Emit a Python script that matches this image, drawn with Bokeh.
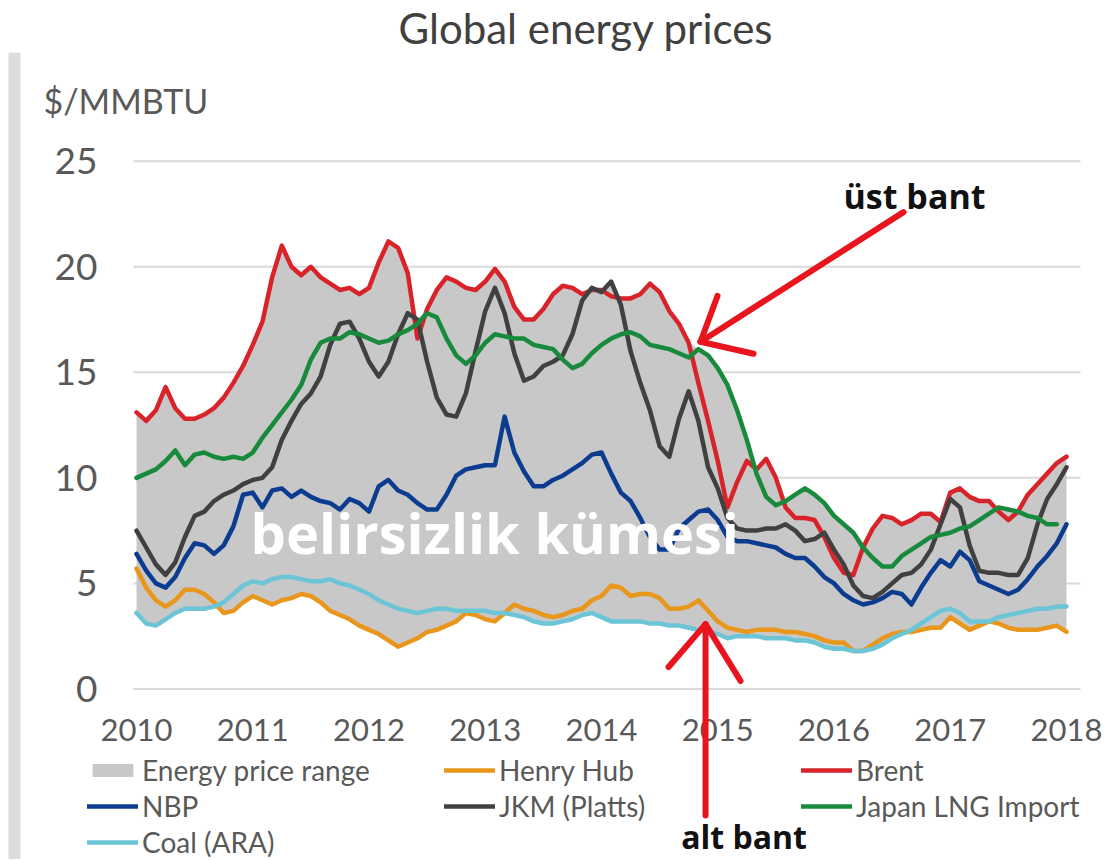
import numpy as np
from bokeh.plotting import figure
from bokeh.models import (Legend, LegendItem, Label, Arrow, FixedTicker, ColumnDataSource,
                          BoxAnnotation)
from bokeh.embed import file_html
from bokeh.resources import INLINE

# ---------------- data (monthly, Jan 2010 .. Jan 2018), $/MMBTU ----------------
start_year = 2010
year_ticks = [2010, 2011, 2012, 2013, 2014, 2015, 2016, 2017, 2018]
y_ticks = [0, 5, 10, 15, 20, 25]

henry_hub = [5.7, 4.8, 4.2, 3.9, 4.2, 4.7, 4.7, 4.5, 4.1, 3.6, 3.7, 4.1,
             4.4, 4.2, 4.0, 4.2, 4.3, 4.5, 4.4, 4.1, 3.7, 3.5, 3.3, 3.0,
             2.8, 2.6, 2.3, 2.0, 2.2, 2.4, 2.7, 2.8, 3.0, 3.2, 3.6, 3.5,
             3.3, 3.2, 3.6, 4.0, 3.8, 3.7, 3.5, 3.4, 3.5, 3.7, 3.8, 4.2,
             4.4, 4.9, 4.8, 4.4, 4.5, 4.5, 4.3, 3.8, 3.8, 3.9, 4.2, 3.7,
             3.2, 2.9, 2.8, 2.7, 2.8, 2.8, 2.8, 2.7, 2.7, 2.6, 2.5, 2.3,
             2.2, 2.2, 1.8, 1.8, 2.1, 2.4, 2.6, 2.7, 2.7, 2.8, 2.9, 2.9,
             3.4, 3.1, 2.8, 3.0, 3.2, 3.1, 2.9, 2.8, 2.8, 2.8, 2.9, 3.0,
             2.7]

brent = [13.1, 12.7, 13.2, 14.3, 13.3, 12.8, 12.8, 13.0, 13.3, 13.8, 14.5, 15.3,
         16.3, 17.4, 19.5, 21.0, 20.0, 19.6, 20.0, 19.5, 19.2, 18.9, 19.0, 18.7,
         19.0, 20.2, 21.2, 20.9, 19.7, 16.6, 18.0, 18.9, 19.5, 19.3, 19.0, 18.9,
         19.3, 19.9, 19.3, 18.1, 17.5, 17.5, 18.0, 18.7, 19.1, 19.0, 18.7, 18.9,
         18.9, 18.6, 18.5, 18.5, 18.7, 19.2, 18.8, 17.9, 17.3, 16.4, 14.5, 12.7,
         10.8, 8.6, 9.8, 10.8, 10.4, 10.9, 10.0, 8.6, 8.1, 8.1, 8.0, 7.2,
         6.2, 5.5, 5.4, 6.7, 7.6, 8.2, 8.1, 7.8, 8.0, 8.3, 8.3, 7.9,
         9.3, 9.5, 9.1, 8.9, 8.9, 8.4, 8.0, 8.4, 9.2, 9.7, 10.2, 10.7,
         11.0]

nbp = [6.4, 5.6, 5.0, 4.8, 5.3, 6.2, 6.9, 6.8, 6.4, 6.8, 7.7, 9.2,
       9.3, 8.6, 9.4, 9.5, 9.1, 9.4, 9.1, 8.9, 8.8, 8.5, 9.0, 8.8,
       8.4, 9.6, 9.9, 9.4, 9.2, 8.8, 8.5, 8.5, 9.2, 10.1, 10.4, 10.5,
       10.6, 10.6, 12.9, 11.2, 10.3, 9.6, 9.6, 9.9, 10.1, 10.4, 10.7, 11.1,
       11.2, 10.2, 9.3, 8.9, 8.1, 7.2, 6.6, 6.6, 7.6, 8.0, 8.4, 8.5,
       8.0, 7.2, 7.0, 7.0, 6.9, 6.8, 6.7, 6.4, 6.2, 6.2, 5.8, 5.3,
       5.0, 4.5, 4.2, 4.0, 4.1, 4.3, 4.6, 4.5, 4.0, 4.8, 5.5, 6.1,
       5.8, 6.5, 6.1, 5.1, 4.9, 4.7, 4.5, 4.7, 5.2, 5.8, 6.3, 6.9,
       7.8]

jkm = [7.5, 6.7, 5.9, 5.4, 6.0, 7.2, 8.2, 8.4, 8.9, 9.2, 9.4, 9.7,
       9.9, 10.0, 10.5, 11.8, 12.7, 13.5, 14.0, 14.8, 16.3, 17.3, 17.4, 16.6,
       15.5, 14.8, 15.5, 16.8, 17.8, 17.5, 15.5, 13.8, 13.0, 12.9, 14.0, 16.0,
       17.9, 19.0, 17.8, 15.9, 14.6, 14.8, 15.3, 15.5, 15.8, 16.8, 18.4, 19.0,
       18.8, 19.3, 18.2, 16.0, 14.5, 13.2, 11.5, 11.0, 12.8, 14.1, 12.7, 10.5,
       9.5, 8.1, 7.6, 7.5, 7.5, 7.6, 7.6, 7.8, 7.5, 7.0, 7.1, 7.4,
       6.6, 5.9, 4.9, 4.4, 4.3, 4.6, 5.0, 5.4, 5.5, 5.9, 6.6, 7.8,
       9.0, 8.6, 6.8, 5.6, 5.5, 5.5, 5.4, 5.4, 6.2, 7.8, 9.0, 9.7,
       10.5]

japan_lng = [10.0, 10.2, 10.4, 10.8, 11.3, 10.6, 11.1, 11.2, 11.0, 10.9, 11.0, 10.9,
             11.2, 11.9, 12.5, 13.1, 13.7, 14.4, 15.6, 16.4, 16.6, 16.6, 16.9, 16.8,
             16.6, 16.4, 16.5, 16.8, 17.0, 17.3, 17.8, 17.6, 16.6, 15.8, 15.4, 15.8,
             16.4, 16.8, 16.7, 16.6, 16.6, 16.3, 16.2, 16.1, 15.6, 15.2, 15.4, 15.9,
             16.3, 16.6, 16.8, 16.9, 16.7, 16.3, 16.2, 16.1, 15.9, 15.7, 16.1, 15.8,
             15.2, 14.4, 13.2, 11.8, 10.2, 9.1, 8.7, 8.9, 9.2, 9.5, 9.2, 8.8,
             8.2, 7.8, 7.4, 6.7, 6.2, 5.8, 5.8, 6.3, 6.6, 6.9, 7.2, 7.3,
             7.4, 7.6, 7.7, 8.0, 8.3, 8.6, 8.5, 8.4, 8.2, 8.1, 7.8, 7.8,
             None]

coal_ara = [3.6, 3.1, 3.0, 3.3, 3.6, 3.8, 3.8, 3.8, 3.9, 4.1, 4.5, 4.9,
            5.1, 5.0, 5.2, 5.3, 5.3, 5.2, 5.1, 5.1, 5.2, 5.0, 4.9, 4.7,
            4.5, 4.2, 4.0, 3.8, 3.7, 3.6, 3.7, 3.8, 3.8, 3.7, 3.7, 3.7,
            3.7, 3.6, 3.6, 3.5, 3.4, 3.2, 3.1, 3.1, 3.2, 3.3, 3.5, 3.6,
            3.4, 3.2, 3.2, 3.2, 3.2, 3.1, 3.1, 3.0, 3.0, 2.9, 2.8, 2.7,
            2.6, 2.4, 2.5, 2.5, 2.5, 2.4, 2.4, 2.4, 2.3, 2.3, 2.2, 2.0,
            1.9, 1.9, 1.8, 1.8, 1.9, 2.1, 2.4, 2.6, 2.8, 3.1, 3.4, 3.7,
            3.8, 3.6, 3.2, 3.2, 3.2, 3.4, 3.5, 3.6, 3.7, 3.8, 3.8, 3.9,
            3.9]

series_names = ["Henry Hub", "Brent", "NBP", "JKM (Platts)", "Japan LNG Import", "Coal (ARA)"]
series_values = [henry_hub, brent, nbp, jkm, japan_lng, coal_ara]
series_colors = ["#e8961c", "#d9232b", "#0b3c8f", "#404040", "#178a3c", "#6cc5d6"]

# ---------------- derived table ----------------
n = len(brent)
months = [start_year + i / 12 for i in range(n)]
arr = np.array([[np.nan if v is None else v for v in s] for s in series_values], dtype=float)
data = {"x": months, "low": np.nanmin(arr, axis=0), "high": np.nanmax(arr, axis=0)}
for k, row in enumerate(arr):
    data["s%d" % k] = row
src = ColumnDataSource(data)

# plot-area extent (where the axes sit) in data units
X0, X1 = 2009.974, 2018.12

# ---------------- figure ----------------
FONT = "Lato"
TXT = "#595959"

p = figure(width=1114, height=859, output_backend="svg", toolbar_location=None,
           x_range=(2008.830, 2018.413), y_range=(-8.081, 30.151),
           min_border_left=0, min_border_right=0, min_border_top=50,
           min_border_bottom=0, background_fill_color="white",
           border_fill_color="white", outline_line_color=None)

p.title.text = "Global energy prices"
p.title.text_font = FONT
p.title.text_font_size = "42px"
p.title.text_font_style = "normal"
p.title.text_color = "#404040"
p.title.align = "left"
p.title.offset = 398
p.title.standoff = 0

# screenshot side bar
p.add_layout(BoxAnnotation(left=2008.899, right=2009.002, fill_color="#dcdcdc",
                           fill_alpha=1, line_color=None, level="underlay"))

# horizontal grid lines at the y ticks, limited to the plot area
p.segment(x0=[X0] * len(y_ticks), x1=[X1] * len(y_ticks), y0=y_ticks, y1=y_ticks,
          line_color="#d9d9d9", line_width=2)

band = p.varea(x="x", y1="low", y2="high", source=src, fill_color="#c8c8c8")
lines = []
for k, (name, col) in enumerate(zip(series_names, series_colors)):
    r = p.line(x="x", y="s%d" % k, source=src, line_color=col, line_width=4.5,
               line_join="round", line_cap="round")
    lines.append(r)

# axes pinned to the plot-area edges
p.xaxis.ticker = FixedTicker(ticks=year_ticks)
p.yaxis.ticker = FixedTicker(ticks=y_ticks)
p.xaxis.fixed_location = 0
p.yaxis.fixed_location = X0
for ax in (p.xaxis[0], p.yaxis[0]):
    ax.axis_line_color = None
    ax.major_tick_line_color = None
    ax.minor_tick_line_color = None
    ax.major_tick_out = 0
    ax.major_tick_in = 0
    ax.major_label_text_font = FONT
    ax.major_label_text_color = TXT
p.xaxis.major_label_text_font_size = "31px"
p.yaxis.major_label_text_font_size = "37px"
p.xaxis.major_label_standoff = 30
p.yaxis.major_label_standoff = 36

p.xgrid.grid_line_color = None
p.ygrid.grid_line_color = None

# unit label
p.add_layout(Label(x=2009.2, y=27.88, text="$/MMBTU", text_font=FONT,
                   text_font_size="34px", text_color=TXT, text_align="left",
                   text_baseline="alphabetic"))

# legend (3 columns, row-major)
order = [("Energy price range", band), ("Henry Hub", lines[0]), ("Brent", lines[1]),
         ("NBP", lines[2]), ("JKM (Platts)", lines[3]), ("Japan LNG Import", lines[4]),
         ("Coal (ARA)", lines[5])]
legend = Legend(items=[LegendItem(label=l, renderers=[r]) for l, r in order],
                orientation="horizontal", ncols=3, location=(87, 0),
                glyph_width=51, glyph_height=16, label_standoff=4, label_width=300,
                spacing=2, padding=0, margin=0, border_line_color=None,
                background_fill_alpha=0, label_text_font=FONT,
                label_text_font_size="28px", label_text_color=TXT)
p.add_layout(legend)

# annotations
p.add_layout(Label(x=2010.981, y=7.42, text="belirsizlik kümesi", text_font="Open Sans",
                   text_font_style="bold", text_font_size="56px", text_color="white",
                   text_align="left", text_baseline="alphabetic"))
p.add_layout(Label(x=2016.082, y=23.35, text="üst bant", text_font="Open Sans",
                   text_font_style="bold", text_font_size="34px", text_color="#111111",
                   text_align="left", text_baseline="alphabetic"))
p.add_layout(Label(x=2014.685, y=-6.98, text="alt bant", text_font="Open Sans",
                   text_font_style="bold", text_font_size="32px", text_color="#111111",
                   text_align="left", text_baseline="alphabetic"))

RED = "#e8141e"
arrow_segments = [
    # upper-band arrow: shaft and two head arms
    (2016.598, 22.59, 2014.852, 16.45),
    (2014.852, 16.45, 2014.998, 18.62),
    (2014.852, 16.45, 2015.308, 15.88),
    # lower-band arrow
    (2014.895, -6.0, 2014.895, 3.07),
    (2014.895, 3.07, 2014.577, 1.04),
    (2014.895, 3.07, 2015.196, 0.38),
]
for xs, ys, xe, ye in arrow_segments:
    p.add_layout(Arrow(x_start=xs, y_start=ys, x_end=xe, y_end=ye, end=None,
                       line_color=RED, line_width=6, line_cap="round"))

open("out.html", "w").write(file_html(p, INLINE))
